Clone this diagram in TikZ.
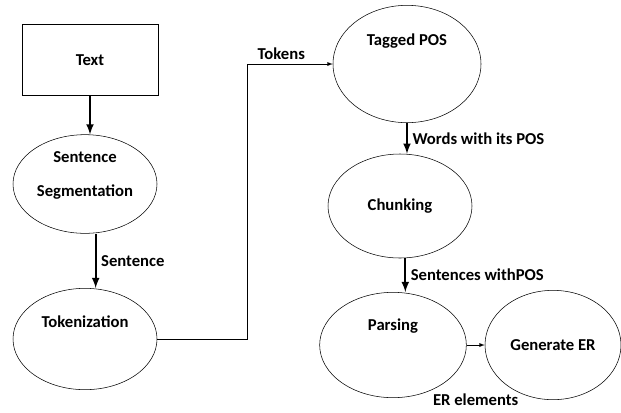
\documentclass[tikz,border=0pt]{standalone}
\usepackage{fontspec}
\setmainfont{Carlito}
\usetikzlibrary{shapes,arrows,positioning,calc}

\begin{document}
\begin{tikzpicture}[
    x=0.75pt, y=-0.75pt,
    box/.style={rectangle, draw, thin, minimum width=102pt, minimum height=53pt, font=\bfseries\fontsize{12.5}{15}\selectfont},
    proc/.style={ellipse, draw, thin, inner sep=0pt, align=center, font=\bfseries\fontsize{12.5}{15}\selectfont},
    lift/.style={text depth=#1},
    lbl/.style={font=\bfseries\fontsize{12.5}{15}\selectfont},
    arrow/.style={->, line width=1.6pt, >=latex},
    thinarrow/.style={->, thin, >=latex}
]
\useasboundingbox (0,0) rectangle (621,412);

% Left column
\node[box] (text) at (90,60) {Text};
\node[proc, lift=15pt, minimum width=108pt, minimum height=74pt] (seg) at (85,184) {Sentence\\[10.5pt]Segmentation};
\node[proc, lift=26pt, minimum width=108pt, minimum height=76pt] (tok) at (85,339) {Tokenization};

% Right column
\node[proc, lift=36pt, minimum width=111pt, minimum height=88pt] (tag) at (407,64) {Tagged POS};
\node[proc, minimum width=108pt, minimum height=78pt] (chunk) at (400,206) {Chunking};
\node[proc, lift=30pt, minimum width=110pt, minimum height=79pt] (parse) at (393,345) {Parsing};
\node[proc, minimum width=102pt, minimum height=82pt] (gen) at (553,345) {Generate ER};

\coordinate (bend) at (247,64);

% Arrows
\draw[arrow] (text.south) -- (text.south |- seg.north);
\draw[arrow] ([xshift=8pt]seg.south) -- node[lbl, right] {Sentence} ([xshift=8pt]tok.north);
\draw[thinarrow] (tok.east) -| (bend) -- node[lbl, above, pos=0.4] {Tokens} (tag.west);
\draw[arrow] (tag.south) -- node[lbl, right] {Words with its POS} (tag.south |- chunk.north);
\draw[arrow] ([xshift=4pt]chunk.south) -- node[lbl, right] {Sentences withPOS} ([xshift=4pt]chunk.south |- parse.north);
\draw[thinarrow] (parse.east) -- node[lbl, below, yshift=-33pt] {ER elements} (gen.west);

\end{tikzpicture}
\end{document}
